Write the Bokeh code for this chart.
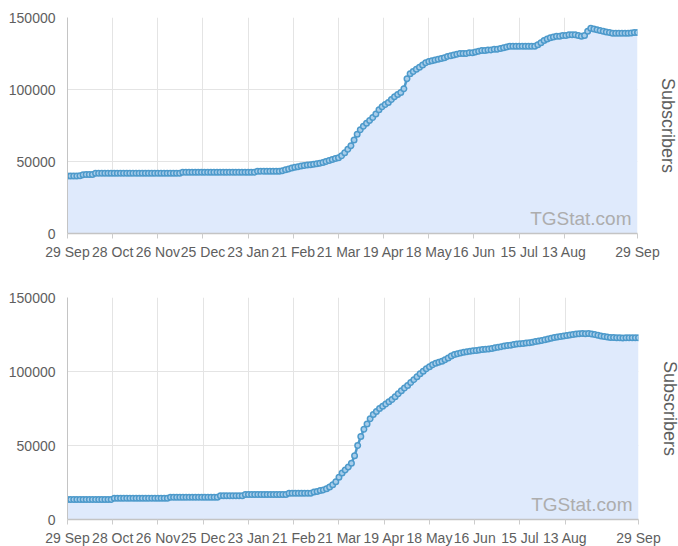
import pandas as pd
from bokeh.plotting import figure
from bokeh.layouts import column
from bokeh.models import (Range1d, FixedTicker, DatetimeTickFormatter, LinearAxis,
                          BasicTickFormatter, Label, ColumnDataSource)
from bokeh.embed import file_html
from bokeh.resources import INLINE

START = "2019-09-29"
END = "2020-09-29"
STEP_DAYS = 2

tick_dates = ["2019-09-29", "2019-10-28", "2019-11-26", "2019-12-25", "2020-01-23",
              "2020-02-21", "2020-03-21", "2020-04-19", "2020-05-18", "2020-06-16",
              "2020-07-15", "2020-08-13", "2020-09-29"]
y_ticks = [0, 50000, 100000, 150000]

# channel 1 subscribers, sampled every 2 days
subs_top = [
    40000, 40000, 40000, 40000, 40100,
    40800, 40900, 40900, 41000,
    41800, 41800, 41800, 41800, 41800, 41800, 41800, 41800, 41800, 41800,
    41800, 41800, 41800, 41800, 41800, 41800, 41800, 41800, 41800, 41800,
    41800, 41800, 41800, 41800, 41800, 41800, 41800, 41800,
    42500, 42500, 42500, 42500, 42500, 42500, 42500, 42500, 42500, 42500,
    42500, 42500, 42500, 42500, 42500, 42500, 42500, 42500, 42500, 42500,
    42500, 42500, 42500, 42500,
    43300, 43300, 43300, 43300, 43300, 43300, 43300, 43300,
    43500, 44200, 44800, 45500, 46000, 46300, 46800, 47200, 47500, 47800,
    48100, 48400, 48700, 49300, 50000, 50700, 51400, 52000, 52600, 54000,
    56000, 58500, 61000, 65000, 69000, 72000, 74500, 76500, 78500, 80500,
    83000, 86000, 88000, 89500, 91000, 93000, 95000, 96500, 98000, 100500,
    107500, 111000, 112500, 114000, 115500, 117000, 118500, 119500, 120000, 120500,
    121000, 121500, 122000, 123000, 123500, 124000, 124500, 125000, 125000, 125000,
    125500, 125500, 126000, 126500, 127000, 127000, 127500, 127500, 128000, 128000,
    128500, 129000, 129500, 130000, 130000, 130000, 130000, 130000, 130000, 130000,
    130000, 130000, 131000, 132500, 134000, 135000, 136000, 136500, 137000, 137000,
    137500, 137500, 138000, 138000, 138000, 137500, 137000, 137500, 140500, 142500,
    142000, 141500, 141000, 140500, 140000, 139500, 139000, 139000, 139000, 139000,
    139000, 139000, 139200, 139600, 139600,
]

# channel 2 subscribers, sampled every 2 days
subs_bottom = [
    13500, 13500, 13500, 13500, 13500, 13500, 13500, 13500, 13500, 13500,
    13500, 13500, 13500, 13500, 13500,
    14400, 14400, 14400, 14400, 14400, 14400, 14400, 14400, 14400, 14400,
    14400, 14400, 14400, 14400, 14400, 14400, 14400, 14400,
    15100, 15100, 15100, 15100, 15100, 15100, 15100, 15100, 15100, 15100,
    15100, 15100, 15100, 15100, 15100, 15100,
    16000, 16000, 16000, 16000, 16000, 16000, 16000, 16000,
    16900, 16900, 16900, 16900, 16900, 16900, 16900, 16900, 16900, 16900,
    16900, 16900, 16900, 16900,
    17800, 17800, 17800, 17800, 17800, 17800, 17800, 17800,
    18500, 19000, 19600, 20000, 20800, 22000, 23500, 25500, 28500, 31500,
    33500, 35500, 38000, 43000, 50000, 56000, 61000, 64500, 68000, 71000,
    73000, 75000, 76500, 78000, 79500, 81000, 83000, 85000, 87000, 88800,
    90500, 92500, 94500, 96500, 98500, 100200, 101800, 103200, 104500, 105500,
    106300, 107000, 108000, 109200, 110500, 111500, 112000, 112500, 113000, 113300,
    113600, 114000, 114200, 114500, 114800, 115000, 115200, 115500, 116000, 116400,
    116800, 117200, 117500, 117800, 118200, 118500, 118800, 119000, 119200, 119500,
    119800, 120200, 120600, 121000, 121500, 122000, 122500, 123000, 123300, 123600,
    124000, 124300, 124600, 125000, 125300, 125500, 125600, 125500, 125600, 125400,
    125000, 124500, 124000, 123600, 123300, 123000, 123000, 122800, 122800, 122600,
    122800, 122800, 122800, 122800, 122800,
]

FONT = "Liberation Sans"
LINE_C = "#4d9acb"
FILL_C = "#dfeafc"
GRID_C = "#e4e4e4"
TEXT_C = "#5e5e5e"


def ms(d):
    return pd.Timestamp(d).value // 10**6


def make_panel(values, frame_w, frame_h, left, top, bottom, label_standoff):
    dates = pd.date_range(START, periods=len(values), freq=f"{STEP_DAYS}D")
    src = ColumnDataSource(dict(x=dates, y=values))
    p = figure(x_axis_type="datetime", frame_width=frame_w, frame_height=frame_h,
               min_border_left=left, min_border_top=top, min_border_bottom=bottom,
               min_border_right=10,
               output_backend="svg", toolbar_location=None,
               x_range=Range1d(pd.Timestamp(START), pd.Timestamp(END)),
               y_range=Range1d(0, 150000))
    p.outline_line_color = None
    p.background_fill_color = "white"
    p.border_fill_color = "white"

    p.varea(x="x", y1=0, y2="y", source=src, fill_color=FILL_C, fill_alpha=1)
    p.line(x="x", y="y", source=src, line_color=LINE_C, line_width=2.5)
    p.scatter(x="x", y="y", source=src, marker="circle", size=5.5,
              line_color=LINE_C, line_width=1.5, fill_color="#a8cdea")

    xa = p.xaxis[0]
    xa.ticker = FixedTicker(ticks=[ms(d) for d in tick_dates])
    fmt = "%d %b"
    xa.formatter = DatetimeTickFormatter(milliseconds=fmt, seconds=fmt, minsec=fmt,
                                         minutes=fmt, hourmin=fmt, hours=fmt, days=fmt,
                                         months=fmt, years=fmt)
    xa.major_label_text_font = FONT
    xa.major_label_text_font_size = "14px"
    xa.major_label_text_color = TEXT_C
    xa.axis_line_color = "#c4c4c4"
    xa.axis_line_width = 1.5
    xa.major_tick_line_color = "#cccccc"
    xa.major_tick_in = 0
    xa.major_tick_out = 5
    xa.minor_tick_line_color = None
    xa.major_label_standoff = 5

    ya = p.yaxis[0]
    ya.ticker = FixedTicker(ticks=y_ticks)
    ya.formatter = BasicTickFormatter(use_scientific=False)
    ya.major_label_text_font = FONT
    ya.major_label_text_font_size = "14px"
    ya.major_label_text_color = TEXT_C
    ya.axis_line_color = "#c4c4c4"
    ya.axis_line_width = 1
    ya.major_tick_line_color = None
    ya.minor_tick_line_color = None
    ya.major_tick_out = 0
    ya.major_tick_in = 0
    ya.major_label_standoff = 12

    ra = LinearAxis(axis_label="Subscribers", ticker=FixedTicker(ticks=[]),
                    axis_line_color=None, major_tick_line_color=None,
                    minor_tick_line_color=None, major_tick_out=0, major_tick_in=0)
    ra.axis_label_text_font = FONT
    ra.axis_label_text_font_size = "18px"
    ra.axis_label_text_font_style = "normal"
    ra.axis_label_text_color = TEXT_C
    ra.axis_label_standoff = label_standoff
    p.add_layout(ra, "right")

    p.xgrid.grid_line_color = GRID_C
    p.ygrid.grid_line_color = GRID_C
    p.xgrid.ticker = xa.ticker
    p.ygrid.ticker = ya.ticker

    wm = Label(x=pd.Timestamp(END), y=0, x_offset=-6, y_offset=15, text="TGStat.com",
               text_align="right", text_baseline="alphabetic",
               text_font=FONT, text_font_size="19px", text_color="#adadad")
    p.add_layout(wm)
    return p


p1 = make_panel(subs_top, 570, 216, 65, 17, 34, 20)
p2 = make_panel(subs_bottom, 571, 222, 67, 30, 27, 21)

layout = column(p1, p2, spacing=0)
open("out.html", "w").write(file_html(layout, INLINE))
